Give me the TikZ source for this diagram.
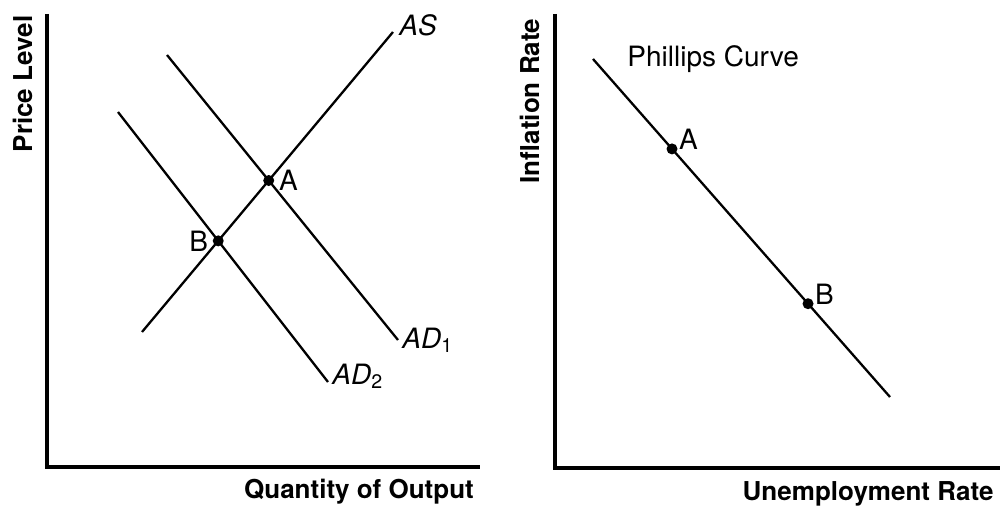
\documentclass[tikz,border=0pt]{standalone}
\usepackage{fontspec}
\setsansfont{TeX Gyre Heros}
\usetikzlibrary{positioning}
\tikzstyle{axis} = [draw,line width=1.7pt]
\tikzstyle{curve} = [draw,line width=1.15pt]
\tikzstyle{dot} = [circle,fill,inner sep=0pt,minimum size=5.5pt]
\tikzstyle{lbl} = [font=\sffamily\fontsize{14}{14}\selectfont,inner sep=1pt]
\tikzstyle{ttl} = [font=\sffamily\bfseries\fontsize{13}{13}\selectfont,inner sep=0pt]

\begin{document}
\begin{tikzpicture}[x=0.5pt,y=-0.5pt,node distance=2pt]
    \useasboundingbox (0,0) rectangle (1001,512);
    \coordinate (y1) at (47,14);
    \coordinate (o1) at (47,467);
    \coordinate (x1) at (480,467);
    \coordinate (as0) at (142,332);
    \coordinate (as1) at (393,32);
    \coordinate (ad1s) at (167,55);
    \coordinate (ad1e) at (398,340);
    \coordinate (ad2s) at (118,112);
    \coordinate (ad2e) at (328,382);
    \draw[axis] (y1) -- (o1) -- (x1);
    \draw[curve] (as0) -- (as1);
    \draw[curve] (ad1s) -- (ad1e);
    \draw[curve] (ad2s) -- (ad2e);
    \node[dot] (pA) at (intersection of as0--as1 and ad1s--ad1e) {};
    \node[dot] (pB) at (intersection of as0--as1 and ad2s--ad2e) {};
    \node[lbl, right=1pt of pA] {A};
    \node[lbl, left=1pt of pB] {B};
    \node[lbl, above right=-3pt and 2pt of as1] {\itshape AS};
    \node[lbl, right=1pt of ad1e] {\itshape AD\textsubscript{\upshape 1}};
    \node[lbl, right=1pt of ad2e, yshift=3pt] {\itshape AD\textsubscript{\upshape 2}};
    \node[ttl, rotate=90] (plev) at (23,84) {Price Level};
    \node[ttl] (qout) at (359,492) {Quantity of Output};

    \coordinate (y2) at (555,14);
    \coordinate (o2) at (555,468);
    \coordinate (x2) at (1000,468);
    \coordinate (pc0) at (593,59);
    \coordinate (pc1) at (890,397);
    \draw[axis] (y2) -- (o2) -- (x2);
    \draw[curve] (pc0) -- (pc1)
        node[dot, pos=0.266] (qA) {}
        node[dot, pos=0.724] (qB) {};
    \node[lbl, above right=-4pt and 0pt of qA] {A};
    \node[lbl, above right=-4pt and 0pt of qB] {B};
    \node[lbl, anchor=base west] (pclbl) at (625,67) {Phillips Curve};
    \node[ttl, rotate=90] (infl) at (530,101) {Inflation Rate};
    \node[ttl] (unem) at (868,494) {Unemployment Rate};
\end{tikzpicture}
\end{document}
